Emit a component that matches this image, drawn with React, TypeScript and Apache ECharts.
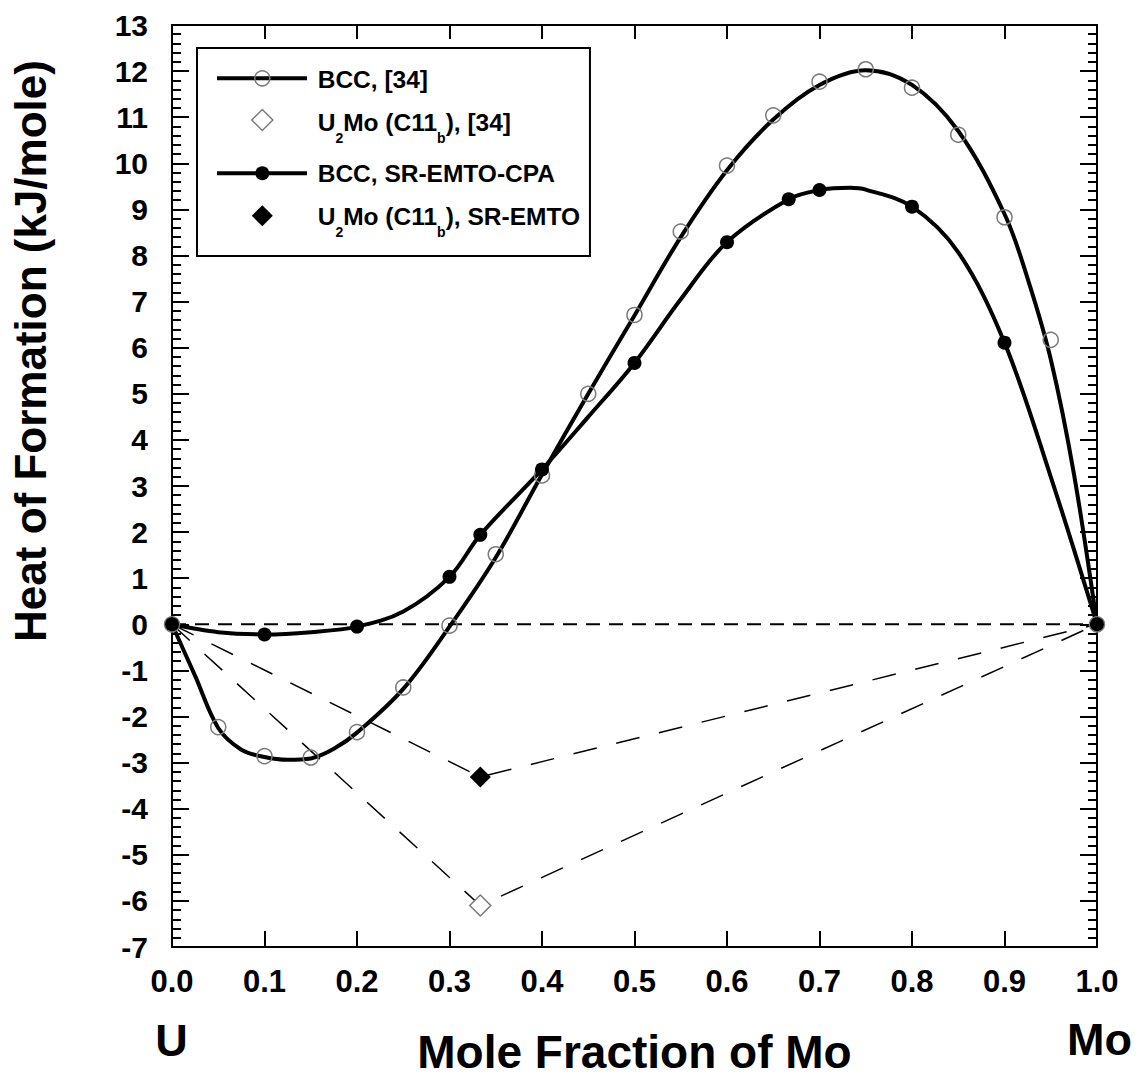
import React, { useEffect, useRef } from "react";
import * as echarts from "echarts";

// ---- data: markers ----
const bcc34X = [0, 0.05, 0.1, 0.15, 0.2, 0.25, 0.3, 0.35, 0.4, 0.45, 0.5, 0.55, 0.6, 0.65, 0.7, 0.75, 0.8, 0.85, 0.9, 0.95, 1.0];
const bcc34Y = [0, -2.23, -2.86, -2.89, -2.34, -1.37, -0.03, 1.52, 3.23, 5.0, 6.71, 8.52, 9.95, 11.04, 11.77, 12.04, 11.64, 10.62, 8.83, 6.17, 0];

const emtoX = [0, 0.1, 0.2, 0.3, 0.3333, 0.4, 0.5, 0.6, 0.6667, 0.7, 0.8, 0.9, 1.0];
const emtoY = [0, -0.22, -0.05, 1.03, 1.94, 3.36, 5.67, 8.29, 9.22, 9.42, 9.06, 6.11, 0];

// ---- data: fitted curves ----
const bcc34CurveX = [0, 0.025, 0.05, 0.075, 0.1, 0.125, 0.15, 0.175, 0.2, 0.25, 0.3, 0.35, 0.4, 0.45, 0.5, 0.55, 0.6, 0.65, 0.7, 0.75, 0.8, 0.85, 0.9, 0.925, 0.95, 0.975, 1.0];
const bcc34CurveY = [0, -1.12, -2.25, -2.72, -2.88, -2.94, -2.91, -2.7, -2.35, -1.4, -0.05, 1.45, 3.25, 5.0, 6.7, 8.4, 9.85, 10.95, 11.7, 12.02, 11.7, 10.7, 8.9, 7.5, 5.75, 3.27, 0];

const emtoCurveX = [0, 0.05, 0.1, 0.15, 0.2, 0.25, 0.3, 0.3333, 0.4, 0.45, 0.5, 0.55, 0.6, 0.6667, 0.7, 0.733, 0.75, 0.8, 0.85, 0.9, 0.95, 1.0];
const emtoCurveY = [0, -0.17, -0.22, -0.17, -0.05, 0.28, 1.03, 1.94, 3.36, 4.5, 5.67, 7.05, 8.29, 9.22, 9.42, 9.47, 9.43, 9.06, 8.07, 6.11, 3.2, 0];

const u2mo34X = [0.3333];
const u2mo34Y = [-6.1];
const u2moEmtoX = [0.3333];
const u2moEmtoY = [-3.31];

const tieX = [0, 0.3333, 1.0];
const tie34Y = [0, -6.1, 0];
const tieEmtoY = [0, -3.31, 0];

const zeroX = [0, 1];
const zeroY = [0, 0];

const seriesNames = [
  "BCC, [34]",
  "U2Mo (C11b), [34]",
  "BCC, SR-EMTO-CPA",
  "U2Mo (C11b), SR-EMTO",
];

// legend labels split into normal / subscript pieces
const legendLabels: { t: string; sub?: boolean }[][] = [
  [{ t: "BCC, [34]" }],
  [{ t: "U" }, { t: "2", sub: true }, { t: "Mo (C11" }, { t: "b", sub: true }, { t: "), [34]" }],
  [{ t: "BCC, SR-EMTO-CPA" }],
  [{ t: "U" }, { t: "2", sub: true }, { t: "Mo (C11" }, { t: "b", sub: true }, { t: "), SR-EMTO" }],
];

const FONT = '"Liberation Sans", Arial, Helvetica, sans-serif';
const LEG_FS = 24.5;
const SUB_FS = 14;

const pairs = (xs: number[], ys: number[]) => xs.map((x, i) => [x, ys[i]]);

function measure(text: string, font: string): number {
  const c = document.createElement("canvas").getContext("2d");
  if (!c) return text.length * 12;
  c.font = font;
  return c.measureText(text).width;
}

function labelElements(pieces: { t: string; sub?: boolean }[], x0: number, baseline: number) {
  const els: any[] = [];
  let x = x0;
  for (const p of pieces) {
    const fs = p.sub ? SUB_FS : LEG_FS;
    const font = `bold ${fs}px ${FONT}`;
    const base = p.sub ? baseline + 12.3 : baseline;
    els.push({
      type: "text",
      x,
      y: base - 0.3465 * fs,
      z: 20,
      style: { text: p.t, font, align: "left", verticalAlign: "middle", fill: "#000" },
    });
    x += measure(p.t, font);
  }
  return { els, end: x };
}

export default function App() {
  const ref = useRef<HTMLDivElement>(null);

  useEffect(() => {
    if (!ref.current) return;
    const chart = echarts.init(ref.current, undefined, { renderer: "svg" });

    const axisLine = { show: true, onZero: false, lineStyle: { color: "#000", width: 2 } };

    // legend layout (pixels)
    const iconL = 217;
    const iconR = 307;
    const iconC = 262.3;
    const textX = 317.7;
    const rowBase = [87.5, 130.5, 181.7, 225];
    const rowMid = [78.3, 120, 173.3, 215.7];

    const texts: any[] = [];
    let maxEnd = 0;
    legendLabels.forEach((pieces, i) => {
      const r = labelElements(pieces, textX, rowBase[i]);
      texts.push(...r.els);
      maxEnd = Math.max(maxEnd, r.end);
    });
    const boxRight = Math.max(578, maxEnd + 10);

    const legendGraphics: any[] = [
      {
        type: "rect",
        shape: { x: 197, y: 48, width: boxRight - 197, height: 208 },
        style: { fill: "#fff", stroke: "#000", lineWidth: 2 },
        z: 15,
      },
      { type: "line", shape: { x1: iconL, y1: rowMid[0], x2: iconR, y2: rowMid[0] }, style: { stroke: "#000", lineWidth: 4 }, z: 16 },
      { type: "circle", shape: { cx: iconC, cy: rowMid[0], r: 7.5 }, style: { fill: "none", stroke: "#7a7a7a", lineWidth: 1.5 }, z: 17 },
      {
        type: "polygon",
        shape: { points: [[iconC, rowMid[1] - 10.5], [iconC + 10.5, rowMid[1]], [iconC, rowMid[1] + 10.5], [iconC - 10.5, rowMid[1]]] },
        style: { fill: "#fff", stroke: "#7a7a7a", lineWidth: 1.5 },
        z: 17,
      },
      { type: "line", shape: { x1: iconL, y1: rowMid[2], x2: iconR, y2: rowMid[2] }, style: { stroke: "#000", lineWidth: 4 }, z: 16 },
      { type: "circle", shape: { cx: iconC, cy: rowMid[2], r: 7 }, style: { fill: "#000" }, z: 17 },
      {
        type: "polygon",
        shape: { points: [[iconC, rowMid[3] - 10.5], [iconC + 10.5, rowMid[3]], [iconC, rowMid[3] + 10.5], [iconC - 10.5, rowMid[3]]] },
        style: { fill: "#000" },
        z: 17,
      },
      ...texts,
    ];

    chart.setOption({
      animation: false,
      backgroundColor: "#fff",
      grid: { left: 172, top: 25, right: 45, bottom: 130, containLabel: false },
      xAxis: [
        {
          type: "value",
          position: "bottom",
          min: 0,
          max: 1,
          interval: 0.1,
          axisLine,
          axisTick: { show: true, inside: true, length: 16, lineStyle: { color: "#000", width: 2 } },
          axisLabel: {
            margin: 19,
            fontSize: 31,
            fontWeight: "bold",
            fontFamily: FONT,
            color: "#000",
            formatter: (v: number) => v.toFixed(1),
          },
          splitLine: { show: false },
          name: "Mole Fraction of Mo",
          nameLocation: "middle",
          nameGap: 82,
          nameTextStyle: { fontSize: 46, fontWeight: "bold", fontFamily: FONT, color: "#000" },
        },
        {
          type: "value",
          position: "top",
          min: 0,
          max: 1,
          interval: 0.1,
          axisLine,
          axisTick: { show: true, inside: true, length: 14, lineStyle: { color: "#000", width: 2 } },
          axisLabel: { show: false },
          splitLine: { show: false },
        },
      ],
      yAxis: [
        {
          type: "value",
          position: "left",
          min: -7,
          max: 13,
          interval: 1,
          axisLine,
          axisTick: { show: true, inside: true, length: 17, lineStyle: { color: "#000", width: 2 } },
          minorTick: { show: true, splitNumber: 5, length: 9, lineStyle: { color: "#000", width: 2 } },
          axisLabel: { margin: 24, fontSize: 30, fontWeight: "bold", fontFamily: FONT, color: "#000" },
          splitLine: { show: false },
        },
        {
          type: "value",
          position: "right",
          min: -7,
          max: 13,
          interval: 1,
          axisLine,
          axisTick: { show: true, inside: true, length: 17, lineStyle: { color: "#000", width: 2 } },
          minorTick: { show: true, splitNumber: 5, length: 9, lineStyle: { color: "#000", width: 2 } },
          axisLabel: { show: false },
          splitLine: { show: false },
        },
      ],
      series: [
        {
          name: "zero",
          type: "line",
          data: pairs(zeroX, zeroY),
          symbol: "none",
          silent: true,
          lineStyle: { color: "#000", width: 2, type: [14, 9] },
          z: 1,
        },
        {
          name: "tie34",
          type: "line",
          data: pairs(tieX, tie34Y),
          symbol: "none",
          silent: true,
          lineStyle: { color: "#000", width: 1.5, type: [24, 20] },
          z: 1,
        },
        {
          name: "tieEmto",
          type: "line",
          data: pairs(tieX, tieEmtoY),
          symbol: "none",
          silent: true,
          lineStyle: { color: "#000", width: 1.5, type: [24, 20] },
          z: 1,
        },
        {
          name: seriesNames[0] + " fit",
          type: "line",
          data: pairs(bcc34CurveX, bcc34CurveY),
          smooth: 0.35,
          symbol: "none",
          lineStyle: { color: "#000", width: 4 },
          z: 2,
        },
        {
          name: seriesNames[2] + " fit",
          type: "line",
          data: pairs(emtoCurveX, emtoCurveY),
          smooth: 0.35,
          symbol: "none",
          lineStyle: { color: "#000", width: 4 },
          z: 2,
        },
        {
          name: seriesNames[0],
          type: "scatter",
          data: pairs(bcc34X, bcc34Y),
          symbol: "circle",
          symbolSize: 15,
          itemStyle: { color: "rgba(255,255,255,0)", borderColor: "#7a7a7a", borderWidth: 1.5, opacity: 1 },
          z: 3,
        },
        {
          name: seriesNames[1],
          type: "scatter",
          data: pairs(u2mo34X, u2mo34Y),
          symbol: "diamond",
          symbolSize: 21,
          itemStyle: { color: "#fff", borderColor: "#7a7a7a", borderWidth: 1.5, opacity: 1 },
          z: 4,
        },
        {
          name: seriesNames[2],
          type: "scatter",
          data: pairs(emtoX, emtoY),
          symbol: "circle",
          symbolSize: 14,
          itemStyle: { color: "#000", opacity: 1 },
          z: 3,
        },
        {
          name: seriesNames[3],
          type: "scatter",
          data: pairs(u2moEmtoX, u2moEmtoY),
          symbol: "diamond",
          symbolSize: 21,
          itemStyle: { color: "#000", opacity: 1 },
          z: 4,
        },
      ],
      graphic: [
        ...legendGraphics,
        {
          type: "text",
          x: 30,
          y: 351,
          rotation: Math.PI / 2,
          style: {
            text: "Heat of Formation (kJ/mole)",
            font: `bold 44px ${FONT}`,
            align: "center",
            verticalAlign: "middle",
            fill: "#000",
          },
        },
        {
          type: "text",
          x: 171.5,
          y: 1040,
          style: { text: "U", font: `bold 45px ${FONT}`, align: "center", verticalAlign: "middle", fill: "#000" },
        },
        {
          type: "text",
          x: 1099.5,
          y: 1039,
          style: { text: "Mo", font: `bold 45px ${FONT}`, align: "center", verticalAlign: "middle", fill: "#000" },
        },
      ],
    });

    return () => chart.dispose();
  }, []);

  return (
    <div
      ref={ref}
      style={{ position: "absolute", left: 0, top: 0, width: 1142, height: 1080, background: "#fff" }}
    />
  );
}
